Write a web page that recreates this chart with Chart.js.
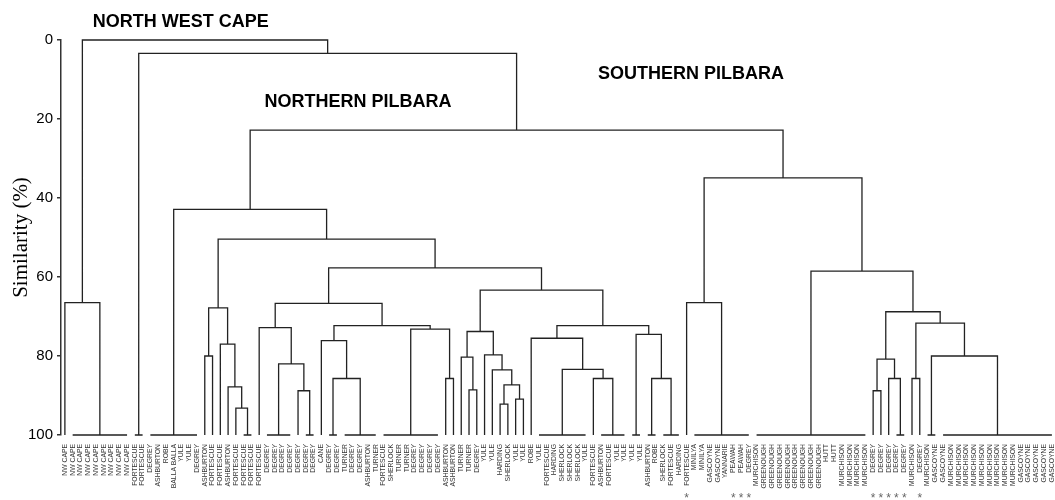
<!DOCTYPE html>
<html><head><meta charset="utf-8">
<script src="https://cdn.jsdelivr.net/npm/chart.js@4.4.1/dist/chart.umd.min.js"></script>
<style>html,body{margin:0;padding:0;background:#fff;}</style>
</head><body>
<canvas id="c" width="1055" height="500"></canvas>
<script>
// ---- leaf labels (left to right) ----
const leafLabels = [
  "NW CAPE","NW CAPE","NW CAPE","NW CAPE","NW CAPE","NW CAPE","NW CAPE","NW CAPE","NW CAPE",
  "FORTESCUE","FORTESCUE",
  "DEGREY","ASHBURTON","ROBE","BALLA BALLA","YULE","YULE","DEGREY",
  "ASHBURTON","FORTESCUE","FORTESCUE","ASHBURTON","FORTESCUE","FORTESCUE","FORTESCUE",
  "FORTESCUE","DEGREY","DEGREY","DEGREY","DEGREY","DEGREY","DEGREY","DEGREY",
  "CANE","DEGREY","DEGREY","TURNER","DEGREY","DEGREY","ASHBURTON","TURNER",
  "FORTESCUE","SHERLOCK","TURNER","TURNER","DEGREY","DEGREY","DEGREY","DEGREY","ASHBURTON","ASHBURTON",
  "TURNER","TURNER","DEGREY","YULE","YULE","HARDING","SHERLOCK","YULE","YULE",
  "ROBE","YULE","FORTESCUE","HARDING","SHERLOCK","SHERLOCK","SHERLOCK","YULE",
  "FORTESCUE","ASHBURTON","FORTESCUE","YULE","YULE","YULE","YULE",
  "ASHBURTON","ROBE","SHERLOCK","FORTESCUE","HARDING",
  "FORTESCUE","MINILYA","MINILYA","GASCOYNE","GASCOYNE","YANNARIE","PEAWAH","PEAWAH","DEGREY",
  "MURCHISON","GREENOUGH","GREENOUGH","GREENOUGH","GREENOUGH","GREENOUGH","GREENOUGH","GREENOUGH","GREENOUGH",
  "HUTT","HUTT","MURCHISON","MURCHISON","MURCHISON","MURCHISON",
  "DEGREY","DEGREY","DEGREY","DEGREY","DEGREY","MURCHISON","DEGREY",
  "MURCHISON","GASCOYNE","GASCOYNE",
  "MURCHISON","MURCHISON","MURCHISON","MURCHISON","MURCHISON","MURCHISON","MURCHISON","MURCHISON","MURCHISON",
  "GASCOYNE","GASCOYNE","GASCOYNE","GASCOYNE","GASCOYNE"
];
// leaves marked with an asterisk
const starredLeaves = [80, 86, 87, 88, 104, 105, 106, 107, 108, 110];

// ---- linkage: number = leaf, "a-b" = leaves a..b joined at 100 %, "#k" = merge k ----
const mergeLeft = [0, 18, 22, 21, 20, "#1", 30, "26-29", 25, "34-35", 33, 49, "41-48", "#10", "#8",
  52, 51, 56, 58, "#17", 55, 54, "#16", 68, "61-67", 60, "75-76", "73-74", "#25", "#22", "#14", "#5", "11-17",
  80, 104, 106, "#34", 109, "111-112", "#37", "#36", "89-103", "#33", "#32", "9-10", "#0"];
const mergeRight = ["1-8", 19, "23-24", "#2", "#3", "#4", "31-32", "#6", "#7", "36-40", "#9", 50, "#11", "#12", "#13",
  53, "#15", 57, 59, "#18", "#19", "#20", "#21", "69-72", "#23", "#24", "77-79", "#26", "#27", "#28", "#29", "#30", "#31",
  "81-88", 105, "107-108", "#35", 110, "113-127", "#38", "#39", "#40", "#41", "#42", "#43", "#44"];
const mergeSimilarity = [66.5, 80.0, 93.2, 87.8, 77.0, 67.8, 88.8, 82.0, 72.8, 85.7, 76.1, 85.7, 73.2, 72.3, 66.7,
  88.6, 80.3, 92.2, 90.9, 87.3, 83.5, 79.7, 73.8, 85.7, 83.4, 75.5, 85.7, 74.5, 72.3, 63.3, 57.7, 50.4, 42.9,
  66.5, 88.8, 85.7, 80.8, 85.7, 80.0, 71.7, 68.8, 58.5, 34.9, 22.8, 3.4, 0];

const yTicks = [0, 20, 40, 60, 80, 100];
const regionTitles = ["NORTH WEST CAPE", "NORTHERN PILBARA", "SOUTHERN PILBARA"];
const regionTitleX = [3.6, 25.7, 68.6];   // in leaf units
const regionTitleY = [-3.4, 17.0, 9.9];   // in similarity units (baseline)

// ---- build segments from the linkage ----
const segs = [];
const mergeInfo = [];
const drawnGroups = new Set();
function brk(x){ segs.push({x: x, y: null}); }
function nodeInfo(ref){
  if (typeof ref === 'number') return {x: ref, h: 100};
  if (ref[0] === '#') return mergeInfo[+ref.slice(1)];
  const [a, b] = ref.split('-').map(Number);
  if (!drawnGroups.has(ref)) {
    drawnGroups.add(ref);
    segs.push({x: a, y: 100}, {x: b, y: 100}); brk(b);
  }
  return {x: (a + b) / 2, h: 100};
}
for (let k = 0; k < mergeLeft.length; k++) {
  const L = nodeInfo(mergeLeft[k]), R = nodeInfo(mergeRight[k]);
  const h = mergeSimilarity[k];
  segs.push({x: L.x, y: L.h}, {x: L.x, y: h}, {x: R.x, y: h}, {x: R.x, y: R.h});
  brk(R.x);
  mergeInfo.push({x: (L.x + R.x) / 2, h: h});
}

const annot = {
  id: 'annot',
  afterDraw(chart){
    const {ctx, scales: {x, y}, chartArea} = chart;
    ctx.save();
    ctx.fillStyle = '#000';
    ctx.font = 'bold 18px "Liberation Sans", Arial, sans-serif';
    ctx.textAlign = 'left'; ctx.textBaseline = 'alphabetic';
    regionTitles.forEach((t, i) => ctx.fillText(t, x.getPixelForValue(regionTitleX[i]), y.getPixelForValue(regionTitleY[i])));
    ctx.font = '12px "Liberation Sans", Arial, sans-serif';
    ctx.fillStyle = '#666'; ctx.textAlign = 'center';
    starredLeaves.forEach(i => ctx.fillText('*', x.getPixelForValue(i), chartArea.bottom + 67));
    ctx.restore();
  }
};

new Chart(document.getElementById('c'), {
  type: 'line',
  data: { datasets: [{
    data: segs, borderColor: '#222', borderWidth: 1.3, pointRadius: 0, pointHoverRadius: 0,
    fill: false, tension: 0, spanGaps: false, clip: false
  }]},
  options: {
    responsive: false, devicePixelRatio: 1, animation: false,
    layout: { padding: {top: 40, right: 0, bottom: 0, left: 0} },
    plugins: { legend: {display: false}, tooltip: {enabled: false} },
    scales: {
      x: {
        type: 'linear', min: -0.5, max: 127.4,
        afterBuildTicks: s => { s.ticks = leafLabels.map((_, i) => ({value: i})); },
        afterFit: s => { s.height = 65; s.paddingLeft = 0; s.paddingRight = 0; },
        grid: {display: false}, border: {display: false},
        ticks: { autoSkip: false, minRotation: 90, maxRotation: 90, padding: 1,
          font: {size: 6.8, family: '"Liberation Sans", Arial, sans-serif'}, color: '#333',
          callback: v => leafLabels[v] ?? '' }
      },
      y: {
        type: 'linear', reverse: true, min: 0, max: 100,
        afterBuildTicks: s => { s.ticks = yTicks.map(v => ({value: v})); },
        afterFit: s => { s.width = 61; },
        grid: {drawOnChartArea: false, drawTicks: true, tickLength: 4, color: '#333', lineWidth: 1.5},
        border: {display: true, color: '#333', width: 1.5},
        ticks: { padding: 4, color: '#000', font: {size: 15, family: '"Liberation Sans", Arial, sans-serif'} },
        title: { display: true, text: 'Similarity (%)', color: '#000',
          font: {size: 21, family: '"Liberation Serif", "Times New Roman", serif'},
          padding: {top: 9, bottom: 0} }
      }
    }
  },
  plugins: [annot]
});
</script>
</body></html>
